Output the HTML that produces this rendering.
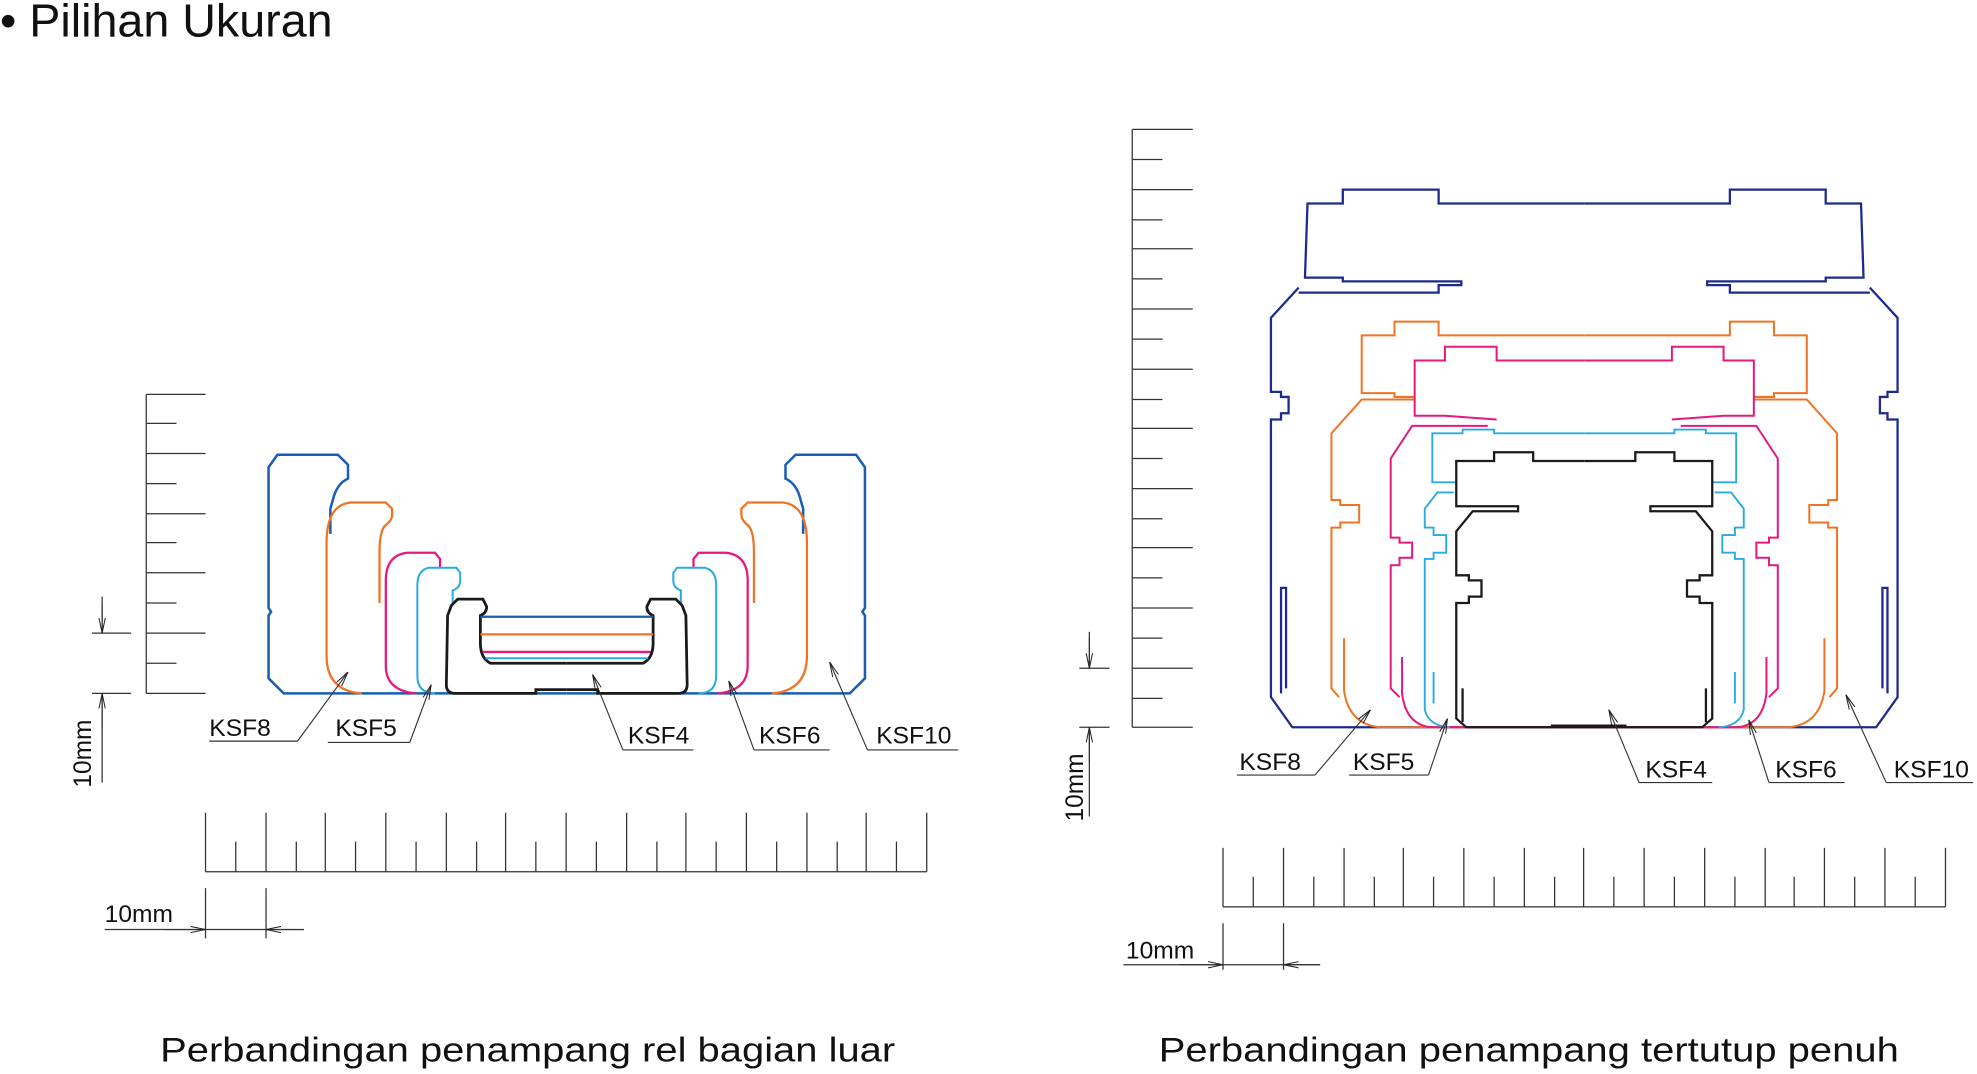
<!DOCTYPE html>
<html><head><meta charset="utf-8"><style>
html,body{margin:0;padding:0;background:#fff;}
svg{display:block;}
text{font-family:"Liberation Sans",Arial,sans-serif;fill:#111;}
</style></head><body>
<svg width="1977" height="1074" viewBox="0 0 1568 855" preserveAspectRatio="none" xmlns="http://www.w3.org/2000/svg">
<defs>
<marker id="a" viewBox="0 0 12 6" refX="12" refY="3" markerWidth="12" markerHeight="6" markerUnits="userSpaceOnUse" orient="auto">
<path d="M0,0.5 L12,3 L0,5.5" fill="none" stroke="#222" stroke-width="0.8"/></marker>
<g id="LB"><path d="M449.5,552 L225,552 L213,540 L213,490 L215,487 L213,484 L213,372 L220,362 L268,362 L276,370 L276,381 Q267,385 264,398 L262,405 L262,425" fill="none" stroke="#1a5eb4" stroke-width="2"/></g>
<g id="LO"><path d="M301,480 L301,440 Q301,422 306,418 Q311,414 311,410 L311,405 L306,400 L278,400 Q259,402 259,432 L259,522 Q259,550 287,552" fill="none" stroke="#f07424" stroke-width="1.8"/></g>
<g id="LM"><path d="M349,452 L349,445 L345,440 L323,440 Q306,442 306,462 L306,530 Q306,550 330,552" fill="none" stroke="#e6197f" stroke-width="1.8"/></g>
<g id="LC"><path d="M359,480 L359,470 Q365,468 365,462 L365,456 L362,452 L340,452 Q331,454 331,466 L331,538 Q331,552 345,552" fill="none" stroke="#29abe2" stroke-width="1.6"/></g>
<g id="LK"><path d="M449.5,528 L389,528 Q381,524 381,512 L381,490 Q386,488 386,483 L383,477 L363,477 L358,482 L355,490 L354,545 Q354,552 361,552 L425,552 L425,549 L449.5,549" fill="none" stroke="#1a1a1a" stroke-width="2.2"/></g>

<g id="RB" fill="none" stroke="#1e2a8e" stroke-width="1.8">
<path d="M1256.5,162 L1141,162 L1141,151 L1065,151 L1065,162 L1037,162 L1035,221 L1065,221 L1065,224 L1159,224 L1159,227 L1141,227 L1141,233 L1030,233"/>
<path d="M1030,229 L1008,253 L1008,312 L1016,312 L1016,316 L1022,316 L1022,329 L1016,329 L1016,334 L1008,334 L1008,555 L1025,579 L1256.5,579"/>
<path d="M1016,552 L1016,468 L1020,468 L1020,548"/></g>
<g id="RO" fill="none" stroke="#f07424" stroke-width="1.6">
<path d="M1256.5,267 L1141,267 L1141,256 L1106,256 L1106,267 L1080,267 L1080,313 L1106,313 L1106,316 L1122,316"/>
<path d="M1122,318 L1080,318 L1056,345 L1056,398 L1063,398 L1063,402 L1078,402 L1078,416 L1063,416 L1063,420 L1056,420 L1056,548 L1062,555"/>
<path d="M1066,508 L1066,550 Q1070,577 1095,579 L1256.5,579"/></g>
<g id="RM" fill="none" stroke="#e6197f" stroke-width="1.6">
<path d="M1256.5,287 L1187,287 L1187,276 L1146,276 L1146,287 L1122,287 L1122,331 L1146,331 L1187,334"/>
<path d="M1180,339 L1120,339 L1103,365 L1103,428 L1110,428 L1110,432 L1120,432 L1120,444 L1110,444 L1110,450 L1103,450 L1103,548 L1110,555"/>
<path d="M1112,523 L1112,552 Q1115,577 1135,579 L1256.5,579"/></g>
<g id="RC" fill="none" stroke="#29abe2" stroke-width="1.5">
<path d="M1256.5,345 L1185,345 L1185,342 L1160,342 L1160,345 L1136,345 L1136,384 L1155,384"/>
<path d="M1153,392 L1140,392 L1130,405 L1130,420 L1137,420 L1137,426 L1147,426 L1147,440 L1137,440 L1137,445 L1130,445 L1130,565 Q1133,578 1150,579"/>
<path d="M1137,535 L1137,560"/></g>
<g id="RK" fill="none" stroke="#1a1a1a" stroke-width="1.8">
<path d="M1256.5,367 L1216,367 L1216,360 L1185,360 L1185,367 L1155,367 L1155,403 L1204,403 L1204,407 L1168,407 L1155,423 L1155,458 L1165,458 L1165,462 L1175,462 L1175,475 L1165,475 L1165,480 L1155,480 L1155,572 L1163,579 L1256.5,579"/>
<path d="M1160,548 L1160,575"/></g>
</defs>

<text x="0" y="29" font-size="37">• Pilihan Ukuran</text>

<!-- LEFT -->
<g><use href="#LB"/><use href="#LB" transform="translate(899,0) scale(-1,1)"/>
<use href="#LO"/><use href="#LO" transform="translate(899,0) scale(-1,1)"/>
<use href="#LM"/><use href="#LM" transform="translate(899,0) scale(-1,1)"/>
<use href="#LC"/><use href="#LC" transform="translate(899,0) scale(-1,1)"/>
<use href="#LK"/><use href="#LK" transform="translate(899,0) scale(-1,1)"/></g>
<line x1="381" y1="491" x2="518" y2="491" stroke="#1a5eb4" stroke-width="1.8"/>
<line x1="381" y1="505" x2="518" y2="505" stroke="#f07424" stroke-width="1.8"/>
<line x1="383" y1="519" x2="516" y2="519" stroke="#e6197f" stroke-width="1.8"/>
<line x1="385" y1="524" x2="514" y2="524" stroke="#29abe2" stroke-width="1.6"/>

<g stroke="#333" stroke-width="1" fill="none">
<path d="M116,314 V552 M116,314 H163 M116,361 H163 M116,409 H163 M116,456 H163 M116,504 H163 M116,552 H163 M116,337 H140 M116,385 H140 M116,432 H140 M116,480 H140 M116,528 H140"/>
<path d="M73,504 H104 M73,552 H104 M81,475 V504 M81,552 V623"/>
<path d="M163,694 H735 M163,647 V694 M211,647 V694 M258,647 V694 M306,647 V694 M354,647 V694 M401,647 V694 M449,647 V694 M497,647 V694 M544,647 V694 M592,647 V694 M640,647 V694 M687,647 V694 M735,647 V694 M187,670 V694 M235,670 V694 M282,670 V694 M330,670 V694 M378,670 V694 M425,670 V694 M473,670 V694 M521,670 V694 M568,670 V694 M616,670 V694 M664,670 V694 M711,670 V694"/>
<path d="M163,707 V747 M211,707 V747 M83,740 H241"/>
</g>
<g stroke="#333" stroke-width="0.9" fill="none">
<line x1="81" y1="480" x2="81" y2="504" marker-end="url(#a)"/>
<line x1="81" y1="580" x2="81" y2="552" marker-end="url(#a)"/>
<line x1="130" y1="740" x2="163" y2="740" marker-end="url(#a)"/>
<line x1="241" y1="740" x2="211" y2="740" marker-end="url(#a)"/>
<path d="M166,590 H236"/><line x1="236" y1="590" x2="276" y2="535" marker-end="url(#a)"/>
<path d="M260,591 H325"/><line x1="325" y1="591" x2="342" y2="545" marker-end="url(#a)"/>
<path d="M494,597 H550"/><line x1="494" y1="597" x2="470" y2="537" marker-end="url(#a)"/>
<path d="M598,597 H658"/><line x1="598" y1="597" x2="578" y2="542" marker-end="url(#a)"/>
<path d="M688,597 H760"/><line x1="688" y1="597" x2="658" y2="527" marker-end="url(#a)"/>
</g>
<g font-size="19.5">
<text x="166" y="586">KSF8</text><text x="266" y="586">KSF5</text><text x="498" y="592">KSF4</text><text x="602" y="592">KSF6</text><text x="695" y="592">KSF10</text>
<text x="83" y="734">10mm</text>
<text transform="translate(72,627) rotate(-90)">10mm</text>
</g>

<!-- RIGHT -->
<g><use href="#RB"/><use href="#RB" transform="translate(2513,0) scale(-1,1)"/>
<use href="#RO"/><use href="#RO" transform="translate(2513,0) scale(-1,1)"/>
<use href="#RM"/><use href="#RM" transform="translate(2513,0) scale(-1,1)"/>
<use href="#RC"/><use href="#RC" transform="translate(2513,0) scale(-1,1)"/>
<use href="#RK"/><use href="#RK" transform="translate(2513,0) scale(-1,1)"/></g>
<line x1="1230" y1="578" x2="1290" y2="578" stroke="#1a1a1a" stroke-width="2.5"/>

<g stroke="#333" stroke-width="1" fill="none">
<path d="M898,103 V579 M898,103 H946 M898,151 H946 M898,198 H946 M898,246 H946 M898,294 H946 M898,341 H946 M898,389 H946 M898,436 H946 M898,484 H946 M898,532 H946 M898,579 H946 M898,127 H922 M898,175 H922 M898,222 H922 M898,270 H922 M898,318 H922 M898,365 H922 M898,413 H922 M898,460 H922 M898,508 H922 M898,556 H922"/>
<path d="M856,532 H880 M856,579 H880 M864,503 V532 M864,579 V650"/>
<path d="M970,722 H1543 M970,675 V722 M1018,675 V722 M1066,675 V722 M1113,675 V722 M1161,675 V722 M1209,675 V722 M1256,675 V722 M1304,675 V722 M1352,675 V722 M1400,675 V722 M1447,675 V722 M1495,675 V722 M1543,675 V722 M994,698 V722 M1042,698 V722 M1090,698 V722 M1137,698 V722 M1185,698 V722 M1233,698 V722 M1280,698 V722 M1328,698 V722 M1376,698 V722 M1423,698 V722 M1471,698 V722 M1519,698 V722"/>
<path d="M970,735 V772 M1018,735 V772 M891,768 H1047"/>
</g>
<g stroke="#333" stroke-width="0.9" fill="none">
<line x1="864" y1="508" x2="864" y2="532" marker-end="url(#a)"/>
<line x1="864" y1="606" x2="864" y2="579" marker-end="url(#a)"/>
<line x1="935" y1="768" x2="970" y2="768" marker-end="url(#a)"/>
<line x1="1047" y1="768" x2="1018" y2="768" marker-end="url(#a)"/>
<path d="M981,617 H1043"/><line x1="1043" y1="617" x2="1087" y2="565" marker-end="url(#a)"/>
<path d="M1070,617 H1133"/><line x1="1133" y1="617" x2="1148" y2="572" marker-end="url(#a)"/>
<path d="M1300,623 H1358"/><line x1="1300" y1="623" x2="1276" y2="565" marker-end="url(#a)"/>
<path d="M1403,623 H1463"/><line x1="1403" y1="623" x2="1387" y2="573" marker-end="url(#a)"/>
<path d="M1496,623 H1565"/><line x1="1496" y1="623" x2="1464" y2="553" marker-end="url(#a)"/>
</g>
<g font-size="19.5">
<text x="983" y="613">KSF8</text><text x="1073" y="613">KSF5</text><text x="1305" y="619">KSF4</text><text x="1408" y="619">KSF6</text><text x="1502" y="619">KSF10</text>
<text x="893" y="763">10mm</text>
<text transform="translate(859,654) rotate(-90)">10mm</text>
</g>

<text x="127" y="845" font-size="27" textLength="583" lengthAdjust="spacingAndGlyphs">Perbandingan penampang rel bagian luar</text>
<text x="919" y="845" font-size="27" textLength="587" lengthAdjust="spacingAndGlyphs">Perbandingan penampang tertutup penuh</text>
</svg>
</body></html>
